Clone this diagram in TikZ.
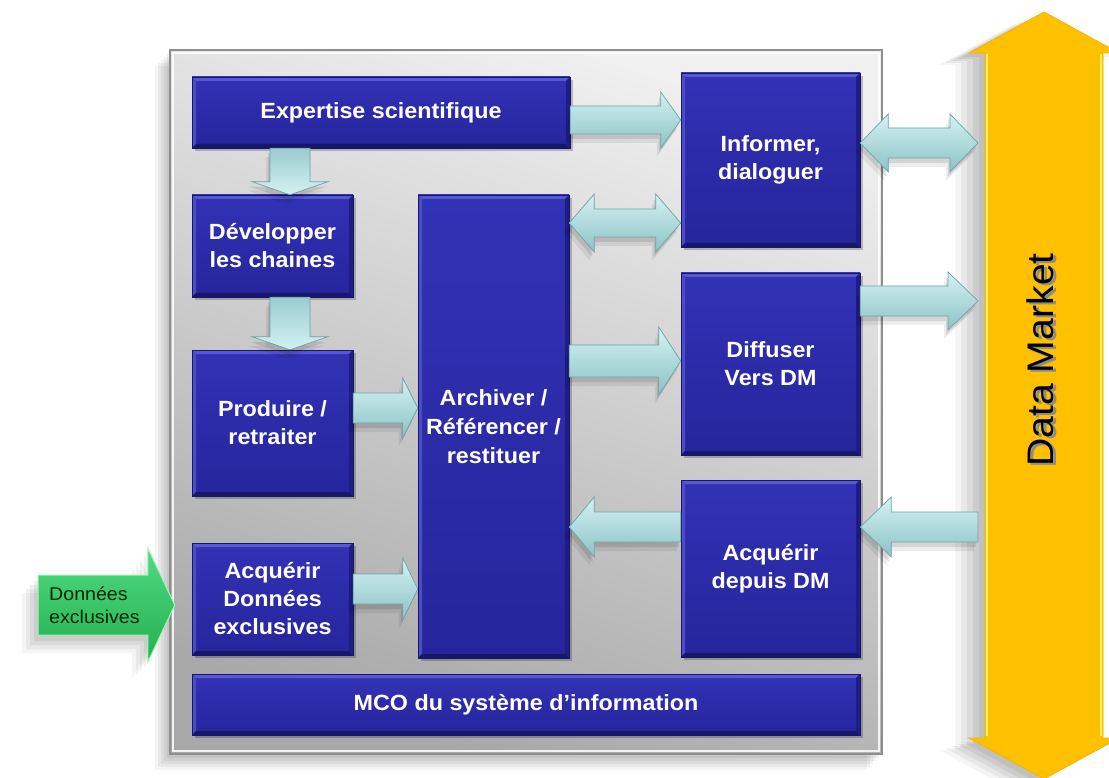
\documentclass[tikz,border=0pt]{standalone}
\usepackage{fontspec}
\setmainfont{Liberation Sans}
\newfontfamily\widesans[FakeStretch=1.06]{Liberation Sans}
\usetikzlibrary{calc,shadows}

\definecolor{boxtop}{HTML}{3232B6}
\definecolor{boxbot}{HTML}{25259C}
\definecolor{boxhi}{HTML}{5858D4}
\definecolor{boxlo}{HTML}{16166A}
\definecolor{boxside}{HTML}{1D1D84}
\definecolor{flowtop}{HTML}{D4F2F2}
\definecolor{flowbot}{HTML}{8CC2C6}
\definecolor{flowedge}{HTML}{6FA2A7}
\definecolor{greentop}{HTML}{52DA82}
\definecolor{greenbot}{HTML}{22B050}
\definecolor{greenedge}{HTML}{A2F2BA}
\definecolor{dmfill}{HTML}{FFC000}
\definecolor{dmedgecol}{HTML}{F2B400}
\definecolor{dmline}{HTML}{FFF35E}
\definecolor{paneltop}{HTML}{F0F0F0}
\definecolor{panelbot}{HTML}{A8A8A8}
\definecolor{panelrim}{HTML}{8E8E8E}

% block arrow with one head: [style]{tail}{tip}{shaft half width}{head half width}{head length}
\newcommand\singlearrow[6][]{%
  \coordinate (ba-h) at ($(#3)!#6!(#2)$);
  \path[#1] ($(#2)!#4!90:(#3)$) -- ($(ba-h)!#4!90:(#3)$) -- ($(ba-h)!#5!90:(#3)$) -- (#3)
    -- ($(ba-h)!#5!-90:(#3)$) -- ($(ba-h)!#4!-90:(#3)$) -- ($(#2)!#4!-90:(#3)$) -- cycle;}
% block arrow with a head at each end
\newcommand\doublearrow[6][]{%
  \coordinate (ba-h) at ($(#3)!#6!(#2)$);
  \coordinate (ba-t) at ($(#2)!#6!(#3)$);
  \path[#1] (#2) -- ($(ba-t)!#5!90:(#3)$) -- ($(ba-t)!#4!90:(#3)$) -- ($(ba-h)!#4!90:(#3)$)
    -- ($(ba-h)!#5!90:(#3)$) -- (#3) -- ($(ba-h)!#5!-90:(#3)$) -- ($(ba-h)!#4!-90:(#3)$)
    -- ($(ba-t)!#4!-90:(#3)$) -- ($(ba-t)!#5!-90:(#3)$) -- cycle;}

\begin{document}
\begin{tikzpicture}[x=1pt,y=-1pt,
  softshadow/.style={
    drop shadow={shadow xshift=-2pt, shadow yshift=-5pt, opacity=0.10, fill=black},
    drop shadow={shadow xshift=-4pt, shadow yshift=-9pt, opacity=0.07, fill=black}},
  box/.style={rectangle, inner sep=0pt, align=center, text=white,
    font=\widesans\bfseries\fontsize{22}{28}\selectfont,
    top color=boxtop, bottom color=boxbot, draw=boxlo, line width=0.5pt,
    drop shadow={shadow xshift=3pt, shadow yshift=-3pt, opacity=0.22, fill=black},
    path picture={
      \coordinate (pnw) at (path picture bounding box.north west);
      \coordinate (pne) at (path picture bounding box.north east);
      \coordinate (psw) at (path picture bounding box.south west);
      \coordinate (pse) at (path picture bounding box.south east);
      \fill[boxhi] (pnw) -- (pne) -- ([shift={(-4pt,-4pt)}]pne) -- ([shift={(4pt,-4pt)}]pnw) -- cycle;
      \fill[boxhi!70!boxtop] (pnw) -- ([shift={(4pt,-4pt)}]pnw) -- ([shift={(4pt,4pt)}]psw) -- (psw) -- cycle;
      \fill[boxlo] (psw) -- ([shift={(4pt,4pt)}]psw) -- ([shift={(-4pt,4pt)}]pse) -- (pse) -- cycle;
      \fill[boxside] (pne) -- (pse) -- ([shift={(-4pt,4pt)}]pse) -- ([shift={(-4pt,-4pt)}]pne) -- cycle;
    }},
  flow/.style={top color=flowtop, bottom color=flowbot, draw=flowedge,
    line width=0.7pt, line join=miter, softshadow},
  downflow/.style={flow, top color=flowbot!80!flowtop, bottom color=flowtop},
  panel/.style={rectangle, inner sep=0pt, minimum width=712pt, minimum height=704pt,
    top color=paneltop, bottom color=panelbot, shading angle=-18,
    draw=panelrim, line width=1.2pt,
    drop shadow={shadow xshift=-3pt, shadow yshift=-4pt, opacity=0.05, fill=black},
    drop shadow={shadow xshift=-6pt, shadow yshift=-7pt, opacity=0.05, fill=black},
    drop shadow={shadow xshift=-9pt, shadow yshift=-10pt, opacity=0.05, fill=black},
    drop shadow={shadow xshift=-12pt, shadow yshift=-13pt, opacity=0.05, fill=black},
    drop shadow={shadow xshift=-15pt, shadow yshift=-16pt, opacity=0.04, fill=black}},
  market/.style={fill=dmfill, draw=dmedgecol, line width=0.8pt, line join=miter,
    drop shadow={shadow xshift=-6pt, shadow yshift=-4pt, opacity=0.06, fill=black},
    drop shadow={shadow xshift=-12pt, shadow yshift=-6pt, opacity=0.06, fill=black},
    drop shadow={shadow xshift=-18pt, shadow yshift=-8pt, opacity=0.06, fill=black},
    drop shadow={shadow xshift=-24pt, shadow yshift=-10pt, opacity=0.05, fill=black},
    drop shadow={shadow xshift=-30pt, shadow yshift=-12pt, opacity=0.04, fill=black}},
  inflow/.style={top color=greentop, bottom color=greenbot, draw=greenedge,
    line width=1pt, line join=miter,
    drop shadow={shadow xshift=-4pt, shadow yshift=-6pt, opacity=0.06, fill=black},
    drop shadow={shadow xshift=-8pt, shadow yshift=-10pt, opacity=0.06, fill=black},
    drop shadow={shadow xshift=-12pt, shadow yshift=-14pt, opacity=0.05, fill=black},
    drop shadow={shadow xshift=-16pt, shadow yshift=-18pt, opacity=0.04, fill=black}},
]
\useasboundingbox (0,0) rectangle (1109,778);
\clip (0,0) rectangle (1109,778);
\fill[white] (0,0) rectangle (1109,778);

% grey frame holding the process blocks
\node[panel] (panel) at (526,402) {};
\draw[white, line width=1.3pt, opacity=0.85]
  ([shift={(3.5pt,-3.5pt)}]panel.north west) rectangle ([shift={(-3.5pt,3.5pt)}]panel.south east);

% Data Market double arrow
\coordinate (dmtop) at (1044,12);
\coordinate (dmbot) at (1044,779);
\doublearrow[market]{dmtop}{dmbot}{59pt}{75pt}{41pt}
\draw[dmline, line width=1.6pt] (987,54) -- (987,736) (1101,54) -- (1101,736);
\node[rotate=90, text=black!45, font=\widesans\fontsize{37}{40}\selectfont] (dmshade) at (1043,362) {Data Market};
\node[rotate=90, text=black, font=\widesans\fontsize{37}{40}\selectfont] (dmtext) at (1040,360) {Data Market};
\coordinate (dmedge) at (978,395);

% process blocks
\node[box, minimum width=378pt, minimum height=71pt] (exp) at (381,112.5) {Expertise scientifique};
\node[box, minimum width=161pt, minimum height=102pt] (dev) at (272.5,246) {Développer\\les chaines};
\node[box, minimum width=161pt, minimum height=146pt] (prod) at (272.5,423) {Produire /\\retraiter};
\node[box, minimum width=161pt, minimum height=112pt] (acqx) at (272.5,599) {Acquérir\\Données\\exclusives};
\node[box, minimum width=151pt, minimum height=463pt, font=\widesans\bfseries\fontsize{22}{29}\selectfont] (arc) at (493.5,426.5) {Archiver /\\Référencer /\\restituer};
\node[box, minimum width=179pt, minimum height=174pt] (inf) at (770.5,160) {Informer,\\dialoguer};
\node[box, minimum width=179pt, minimum height=182pt] (dif) at (770.5,364) {Diffuser\\Vers DM};
\node[box, minimum width=179pt, minimum height=177pt] (acqdm) at (770.5,568.5) {Acquérir\\depuis DM};
\node[box, minimum width=668pt, minimum height=61pt] (mco) at (526,704.5) {MCO du système d’information};

% connector end points on the blocks
\coordinate (e2i-a) at (exp.east |- 0,120);   \coordinate (e2i-b) at (inf.west |- 0,120);
\coordinate (a2i-a) at (arc.east |- 0,223);   \coordinate (a2i-b) at (inf.west |- 0,223);
\coordinate (i2d-a) at (inf.east |- 0,143);   \coordinate (i2d-b) at (dmedge |- 0,143);
\coordinate (a2f-a) at (arc.east |- 0,361);   \coordinate (a2f-b) at (dif.west |- 0,361);
\coordinate (f2d-a) at (dif.east |- 0,301);   \coordinate (f2d-b) at (dmedge |- 0,301);
\coordinate (d2q-a) at (dmedge |- 0,527);     \coordinate (d2q-b) at (acqdm.east |- 0,527);
\coordinate (q2a-a) at (acqdm.west |- 0,527); \coordinate (q2a-b) at (arc.east |- 0,527);
\coordinate (p2a-a) at (prod.east |- 0,408);  \coordinate (p2a-b) at (arc.west |- 0,408);
\coordinate (x2a-a) at (acqx.east |- 0,589);  \coordinate (x2a-b) at (arc.west |- 0,589);
\coordinate (e2v-a) at (exp.south -| 290,0);  \coordinate (e2v-b) at (dev.north -| 290,0);
\coordinate (v2p-a) at (dev.south -| 290,0);  \coordinate (v2p-b) at (prod.north -| 290,0);

% flows between blocks
\singlearrow[flow]{e2i-a}{e2i-b}{14pt}{28pt}{20pt}
\doublearrow[flow]{a2i-a}{a2i-b}{14pt}{29pt}{25pt}
\doublearrow[flow]{i2d-a}{i2d-b}{15pt}{29pt}{28pt}
\singlearrow[flow]{a2f-a}{a2f-b}{16pt}{34pt}{22pt}
\singlearrow[flow]{f2d-a}{f2d-b}{15pt}{29pt}{30pt}
\singlearrow[flow]{d2q-a}{d2q-b}{15pt}{30pt}{31pt}
\singlearrow[flow]{q2a-a}{q2a-b}{15pt}{30pt}{25pt}
\singlearrow[flow]{p2a-a}{p2a-b}{15pt}{30pt}{15pt}
\singlearrow[flow]{x2a-a}{x2a-b}{15pt}{31pt}{15pt}
\singlearrow[downflow]{e2v-a}{e2v-b}{20pt}{38pt}{13pt}
\singlearrow[downflow]{v2p-a}{v2p-b}{20pt}{38pt}{13pt}

% incoming exclusive data
\coordinate (gin-a) at (38,605);
\coordinate (gtip) at (acqx.west |- 0,605);
\coordinate (gin-b) at ($(gtip)+(-17,0)$);
\singlearrow[inflow]{gin-a}{gin-b}{30pt}{57pt}{27pt}
\node[anchor=west, align=left, text=black!85!green, inner sep=0pt,
  font=\widesans\fontsize{18.5}{23}\selectfont] (gtext) at (49,605) {Données\\exclusives};
\end{tikzpicture}
\end{document}
